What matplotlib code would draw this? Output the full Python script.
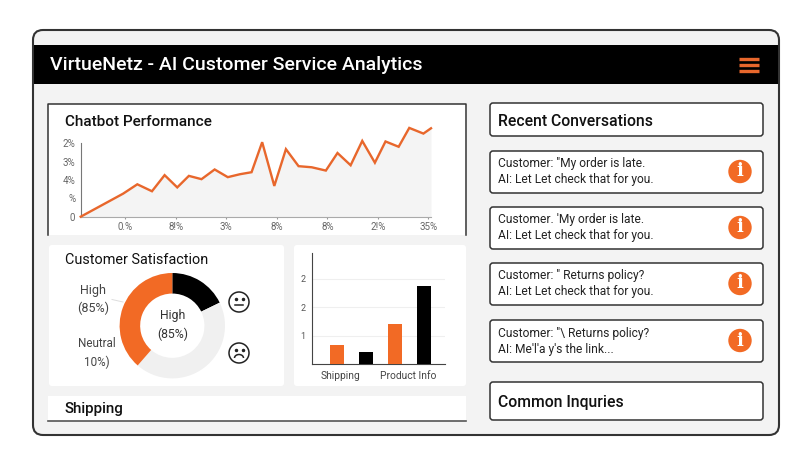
import matplotlib
matplotlib.use("Agg")
import matplotlib.pyplot as plt
from matplotlib.patches import FancyBboxPatch, Rectangle, Circle, Arc

plt.rcParams['font.family'] = ['Roboto', 'DejaVu Sans']

ANCHO, ALTO = 811, 468
NARANJA = '#f26a25'
BORDE = '#333333'
FONDO = '#f3f3f3'

# linea de performance
perf_x = [0.12, 0.96, 1.24, 1.53, 1.78, 2.03, 2.26, 2.51, 2.77, 3.03, 3.27, 3.50, 3.71, 3.95,
          4.18, 4.43, 4.69, 4.97, 5.20, 5.46, 5.69, 5.94, 6.15, 6.41, 6.62, 6.90, 7.05]
perf_y = [0, 1.26, 1.77, 1.39, 2.27, 1.60, 2.23, 2.05, 2.58, 2.16, 2.32, 2.43, 4.07, 1.68,
          3.69, 2.76, 2.70, 2.52, 3.48, 2.81, 4.14, 2.95, 4.11, 3.82, 4.85, 4.54, 4.83]
perf_xticks = [1, 2, 3, 4, 5, 6, 7]
perf_xlabels = ['0.%', '8!%', '3%', '8%', '8%', '2!%', '35%']
perf_yticks = [0, 1, 2, 3, 4]
perf_ylabels = ['0', '%', '4%', '3%', '2%']

# dona (sentido horario desde arriba)
dona_valores = [17.8, 43.6, 38.6]
dona_colores = ['black', '#f0f0f0', NARANJA]

# barras
barras_x = [0, 1, 2, 3]
barras_y = [0.667, 0.444, 1.40, 2.74]
barras_colores = [NARANJA, 'black', NARANJA, 'black']
barras_yticks = [1, 2, 3]
barras_ylabels = ['1', '2', '2']
barras_xticks = [0.13, 2.46]
barras_xlabels = ['Shipping', 'Product Info']

conversaciones = [
    ('Customer: "My order is late.', 'AI: Let Let check that for you.'),
    ("Customer. 'My order is late.", 'AI: Let Let check that for you.'),
    ('Customer: " Returns policy?', 'AI: Let Let check that for you.'),
    ('Customer: "\\ Returns policy?', "AI: Me'l'a y's the link..."),
]
conv_y = [151, 207, 263, 320]


def eje_px(fig, x0, y0, x1, y1):
    # eje a partir de pixeles de la imagen (y hacia abajo)
    return fig.add_axes([x0 / ANCHO, 1 - y1 / ALTO, (x1 - x0) / ANCHO, (y1 - y0) / ALTO])


def caja(ax, x0, y0, x1, y1, borde=BORDE, fondo='white', lw=1.1, r=3, z=2):
    p = FancyBboxPatch((x0 + r, y0 + r), x1 - x0 - 2 * r, y1 - y0 - 2 * r,
                       boxstyle="round,pad=%d,rounding_size=%d" % (r, r),
                       fc=fondo, ec=borde, lw=lw, zorder=z)
    ax.add_patch(p)


fig = plt.figure(figsize=(8.11, 4.68), dpi=100)
fig.patch.set_facecolor('white')

lienzo = fig.add_axes([0, 0, 1, 1])
lienzo.set_xlim(0, ANCHO)
lienzo.set_ylim(ALTO, 0)
lienzo.axis('off')

# marco general y cabecera
caja(lienzo, 33, 30, 779, 435, fondo=FONDO, lw=1.5, r=10, z=1)
lienzo.add_patch(Rectangle((34, 45), 744, 39, fc='black', ec='none', zorder=2))
lienzo.text(50, 65.5, 'VirtueNetz - AI Customer Service Analytics', color='white',
            fontsize=14, fontweight='medium', va='center', zorder=3)
for y in [59, 65, 71]:
    lienzo.plot([739, 759], [y, y], color='#e8672c', lw=2.4, solid_capstyle='butt', zorder=3)

# paneles izquierda
lienzo.add_patch(Rectangle((48, 104), 419, 131, fc='white', ec='none', zorder=2))
lienzo.plot([48, 48, 466, 466], [235, 104, 104, 235], color=BORDE, lw=1.1, zorder=3)
lienzo.text(65, 122.5, 'Chatbot Performance', fontsize=11, fontweight='medium', color='#111111',
            va='center', zorder=3)

caja(lienzo, 49, 245, 284, 386, borde='none', lw=0, r=3)
lienzo.text(65, 260, 'Customer Satisfaction', fontsize=10.4, color='#111111', va='center', zorder=3)
caja(lienzo, 294, 245, 466, 386, borde='none', lw=0, r=3)

lienzo.add_patch(Rectangle((48, 396), 418, 24.5, fc='white', ec='none', zorder=2))
lienzo.plot([48, 466], [421, 421], color='#555555', lw=1.2, zorder=3)
lienzo.text(64.5, 409, 'Shipping', fontsize=10.9, fontweight='medium', color='#111111', va='center', zorder=3)

# columna derecha
caja(lienzo, 490, 103, 763, 136)
lienzo.text(498, 121, 'Recent Conversations', fontsize=11.3, fontweight='medium', color='#111111',
            va='center', zorder=3)
for y, (c, a) in zip(conv_y, conversaciones):
    caja(lienzo, 490, y, 763, y + 42)
    lienzo.text(498, y + 13, c, fontsize=8.65, color='#222222', va='center', zorder=3)
    lienzo.text(498, y + 29, a, fontsize=8.65, color='#222222', va='center', zorder=3)
    lienzo.add_patch(Circle((740, y + 20.5), 11.7, fc=NARANJA, ec='none', zorder=3))
    lienzo.text(740, y + 20.5, 'i', fontsize=13, color='white', fontweight='bold',
                family='DejaVu Serif', ha='center', va='center', zorder=4)
caja(lienzo, 490, 382, 763, 420)
lienzo.text(498, 402, 'Common Inquries', fontsize=11.3, fontweight='medium', color='#111111',
            va='center', zorder=3)

# grafico de linea
ax = eje_px(fig, 80.7, 121.5, 431, 216.7)
ax.patch.set_alpha(0)
ax.fill_between(perf_x, 0, perf_y, color='#f4f4f4', lw=0, zorder=1)
ax.plot(perf_x, perf_y, color='#e8672c', lw=1.7, solid_joinstyle='miter', clip_on=False, zorder=3)
ax.set_xlim(0.12, 7.05)
ax.set_ylim(0, 5.2)
ax.set_xticks(perf_xticks, perf_xlabels)
ax.set_yticks(perf_yticks, perf_ylabels)
ax.tick_params(axis='y', labelsize=7, labelcolor='#666666', length=0, pad=4)
ax.tick_params(axis='x', labelsize=7, labelcolor='#666666', length=1.5, color='#999999', pad=2.5)
for s in ['top', 'right']:
    ax.spines[s].set_visible(False)
ax.spines['left'].set_bounds(0, 4)
ax.spines['left'].set_color('#777777')
ax.spines['bottom'].set_color('#aaaaaa')

# dona
ax = eje_px(fig, 119.6, 273, 225, 378.4)
ax.pie(dona_valores, colors=dona_colores, startangle=90, counterclock=False,
       radius=1.0, wedgeprops=dict(width=0.39))
ax.set_xlim(-1, 1)
ax.set_ylim(-1, 1)
lienzo.plot([112, 123], [299.5, 302], color='#dddddd', lw=0.7, zorder=3)
lienzo.text(172.5, 325, 'High\n(85%)', fontsize=8.8, color='#333333', ha='center', va='center',
            linespacing=1.45, zorder=3)
lienzo.text(93, 299.5, 'High\n(85%)', fontsize=9, color='#444444', ha='center', va='center',
            linespacing=1.4, zorder=3)
lienzo.text(96.5, 353, 'Neutral\n10%)', fontsize=8.4, color='#444444', ha='center', va='center',
            linespacing=1.5, zorder=3)

# caritas
for cy, triste in [(302, False), (353, True)]:
    lienzo.add_patch(Circle((239, cy), 10, fc='white', ec='#222222', lw=1.1, zorder=3))
    lienzo.plot([235.5, 242.5], [cy - 3, cy - 3], ls='none', marker='o', ms=1.5, color='#222222', zorder=4)
    if triste:
        lienzo.add_patch(Arc((239, cy + 5), 9, 7, theta1=180, theta2=360, color='#222222', lw=1.1, zorder=4))
    else:
        lienzo.plot([235, 243], [cy + 3, cy + 3], color='#222222', lw=1.1, zorder=4)

# barras
ax = eje_px(fig, 312.3, 253, 445, 364.3)
ax.patch.set_alpha(0)
ax.bar(barras_x, barras_y, width=0.48, color=barras_colores, zorder=3)
ax.set_xlim(-0.855, 3.74)
ax.set_ylim(0, 3.9)
ax.set_yticks(barras_yticks, barras_ylabels)
ax.set_xticks(barras_xticks, barras_xlabels)
ax.tick_params(axis='y', labelsize=6.5, labelcolor='#555555', length=0, pad=5)
ax.tick_params(axis='x', labelsize=7.4, labelcolor='#444444', length=0, pad=4.5)
ax.grid(axis='y', color='#efefef', lw=0.8)
ax.set_axisbelow(True)
for s in ['top', 'right']:
    ax.spines[s].set_visible(False)
ax.spines['left'].set_color('#444444')
ax.spines['bottom'].set_color('#444444')

fig.savefig("out.png", dpi=100)
